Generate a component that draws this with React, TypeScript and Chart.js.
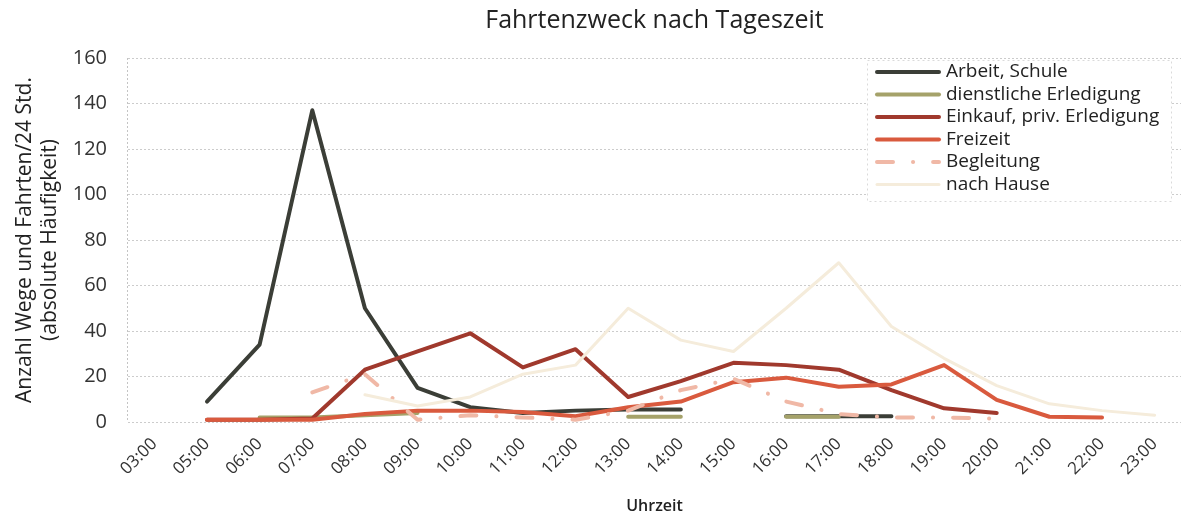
import React, { useEffect, useRef } from 'react';
import { Chart, registerables } from 'chart.js';

Chart.register(...registerables);

const FONT = "'Open Sans', sans-serif";

const hours = ['03:00', '05:00', '06:00', '07:00', '08:00', '09:00', '10:00', '11:00', '12:00', '13:00', '14:00', '15:00', '16:00', '17:00', '18:00', '19:00', '20:00', '21:00', '22:00', '23:00'];

const arbeitSchule = [null, 9, 34, 137, 50, 15, 6.5, 4, 5, 5.5, 5.5, null, 2.5, 2.5, 2.5, null, null, null, null, null];
const dienstlich = [null, null, 2, 2, 3, 4, null, null, null, 2.3, 2.3, null, 2.3, 2.3, null, null, null, null, null, null];
const einkauf = [null, 1, 1, 1.5, 23, 31, 39, 24, 32, 11, 18, 26, 25, 23, 14, 6, 4, null, null, null];
const freizeit = [null, 1, 1, 1, 3.5, 5, 5, 4.4, 2.5, 6.5, 9, 17.5, 19.5, 15.5, 16.5, 25, 9.7, 2.3, 2, null];
const begleitung = [null, null, null, 13, 21, 1, 3, 2, 1, 5, 14, 19, 9, 3.5, 2, 2, 1.5, null, null, null];
const nachHause = [null, null, null, null, 12, 7, 11, 21, 25, 50, 36, 31, 50, 70, 42, 28, 16, 8, 5, 3];

const seriesNames = ['Arbeit, Schule', 'dienstliche Erledigung', 'Einkauf, priv. Erledigung', 'Freizeit', 'Begleitung', 'nach Hause'];
const seriesColors = ['#3b3e37', '#a5a26a', '#a0392d', '#d95a3e', '#f0b8a6', '#f5ecdb'];
const yTitle = ['Anzahl Wege und Fahrten/24 Std.', '(absolute Häufigkeit)'];

const boxLegend = {
  id: 'boxLegend',
  afterDraw(chart: any) {
    const { ctx, chartArea } = chart;
    const w = 304;
    const x0 = chartArea.right - w - 10;
    const y0 = chartArea.top + 2;
    const rows = chart.data.datasets.length;
    const step = 22.5;
    const h = rows * step + 6;
    ctx.save();
    ctx.fillStyle = '#ffffff';
    ctx.fillRect(x0, y0, w, h);
    ctx.setLineDash([2, 3]);
    ctx.strokeStyle = '#dadada';
    ctx.lineWidth = 1;
    ctx.strokeRect(x0 + 0.5, y0 + 0.5, w, h);
    chart.data.datasets.forEach((ds: any, i: number) => {
      const cy = y0 + 12 + i * step;
      ctx.setLineDash(ds.borderDash || []);
      ctx.lineCap = 'round';
      ctx.strokeStyle = ds.borderColor;
      ctx.lineWidth = ds.borderWidth;
      ctx.beginPath();
      ctx.moveTo(x0 + 10, cy);
      ctx.lineTo(x0 + 72, cy);
      ctx.stroke();
      ctx.setLineDash([]);
      ctx.fillStyle = '#222';
      ctx.font = `19px ${FONT}`;
      ctx.textBaseline = 'middle';
      ctx.textAlign = 'left';
      ctx.fillText(ds.label, x0 + 79, cy);
    });
    ctx.restore();
  },
};

export default function App() {
  const ref = useRef<HTMLCanvasElement>(null);
  useEffect(() => {
    if (!ref.current) return;
    const values = [arbeitSchule, dienstlich, einkauf, freizeit, begleitung, nachHause];
    const chart = new Chart(ref.current, {
      type: 'line',
      data: {
        labels: hours,
        datasets: values.map((d, i) => ({
          label: seriesNames[i],
          data: d,
          borderColor: seriesColors[i],
          backgroundColor: seriesColors[i],
          borderWidth: i === 5 ? 3 : 4,
          borderDash: i === 4 ? [16, 20, 0.1, 20] : [],
          borderCapStyle: 'round',
          borderJoinStyle: 'round',
          pointRadius: 0,
          tension: 0,
          fill: false,
          order: 5 - i,
        })),
      },
      options: {
        responsive: false,
        animation: false,
        layout: { padding: { left: 0, right: 2, top: 0, bottom: 0 } },
        plugins: {
          legend: { display: false },
          tooltip: { enabled: false },
          title: {
            display: true,
            text: 'Fahrtenzweck nach Tageszeit',
            fullSize: false,
            color: '#222',
            font: { family: FONT, size: 25, weight: 'normal', lineHeight: 1.1 },
            padding: { top: 7, bottom: 23.5 },
          },
        },
        scales: {
          x: {
            offset: true,
            grid: {
              display: true,
              offset: true,
              drawTicks: false,
              color: (c: any) => (c.index === 0 ? '#c4c4c4' : 'rgba(0,0,0,0)'),
            },
            border: { display: false, dash: [2, 2] },
            ticks: {
              minRotation: 45,
              maxRotation: 45,
              autoSkip: false,
              padding: 12,
              color: '#333',
              font: { family: FONT, size: 17 },
            },
            title: {
              display: true,
              text: 'Uhrzeit',
              color: '#222',
              font: { family: FONT, size: 16, weight: '600' },
              padding: { top: 0, bottom: 4 },
            },
            afterFit: (s: any) => {
              s.height = 98;
            },
          },
          y: {
            min: 0,
            max: 160,
            ticks: {
              stepSize: 20,
              padding: 21,
              color: '#333',
              font: { family: FONT, size: 20 },
            },
            grid: { color: '#cccccc', drawTicks: false },
            border: { display: false, dash: [2, 2] },
            title: {
              display: true,
              text: yTitle,
              color: '#222',
              font: { family: FONT, size: 21, lineHeight: 1.2 },
              padding: { top: 12, bottom: 0 },
            },
            afterFit: (s: any) => {
              s.width = 128;
            },
          },
        },
      },
      plugins: [boxLegend],
    } as any);
    return () => chart.destroy();
  }, []);
  return (
    <div style={{ position: 'absolute', left: 0, top: 0, width: 1183, height: 520 }}>
      <canvas ref={ref} width={1183} height={520} />
    </div>
  );
}
